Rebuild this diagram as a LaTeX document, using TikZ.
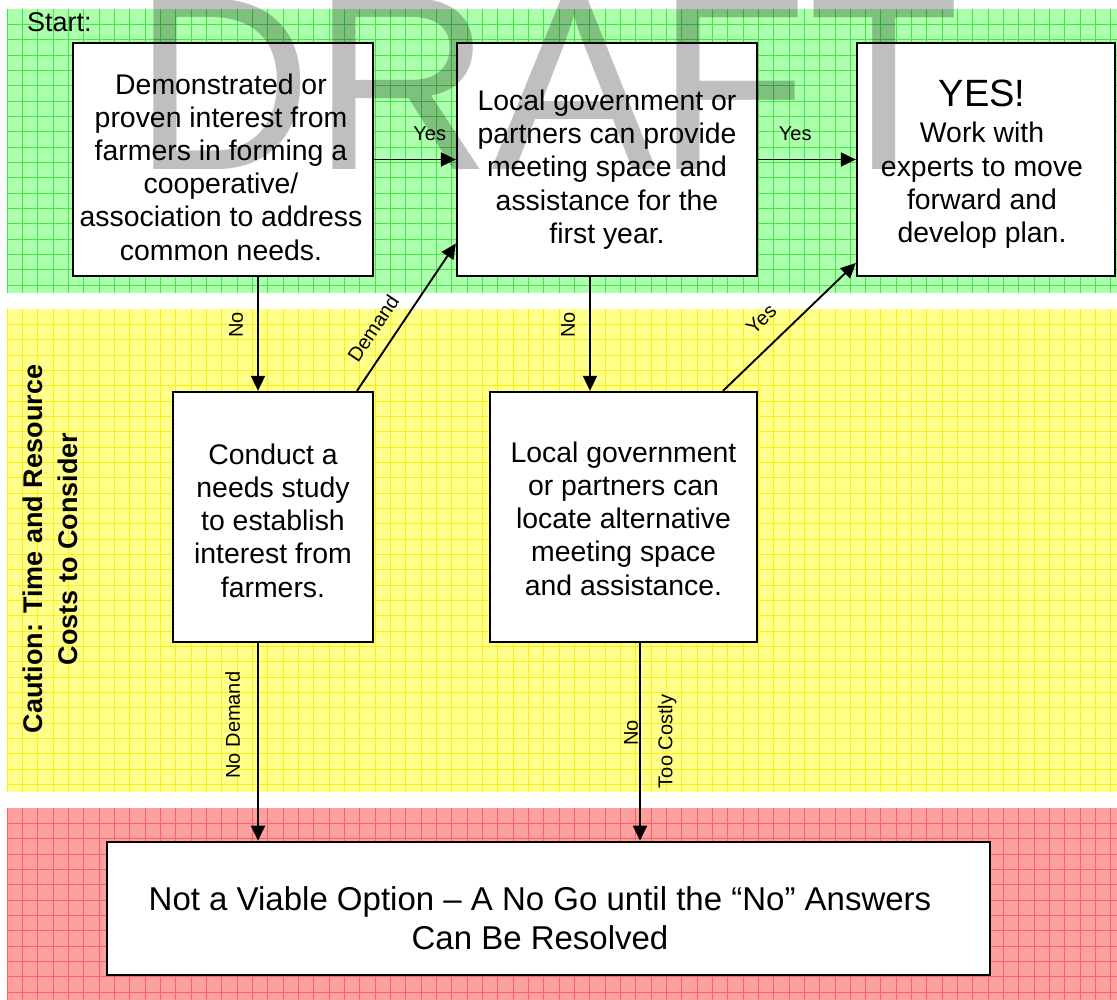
\documentclass[tikz,border=0pt]{standalone}
\usepackage{fontspec}
\setmainfont{Liberation Sans}
\usetikzlibrary{arrows.meta}

\definecolor{bandG}{RGB}{172,255,172}
\definecolor{bandY}{RGB}{255,255,140}
\definecolor{bandR}{RGB}{255,160,160}
\definecolor{lineG}{RGB}{70,228,70}
\definecolor{lineY}{RGB}{250,238,20}
\definecolor{lineR}{RGB}{255,95,95}

\tikzset{
  box/.style={draw=black, line width=2.3pt, fill=white, inner sep=0pt},
  txt/.style={font=\fontsize{28.4}{33.2}\selectfont, align=center, inner sep=0pt},
  arr/.style={draw=black, line width=1.9pt, -{Triangle[length=15pt,width=14pt]}},
  hlbl/.style={font=\fontsize{20}{24}\selectfont, inner sep=0pt, anchor=south},
  vlbl/.style={font=\fontsize{20}{24}\selectfont, rotate=90, inner xsep=0pt},
  slbl/.style={font=\fontsize{20}{24}\selectfont, sloped, anchor=south, inner xsep=0pt},
  gridline/.style={line width=0.65pt},
}

\begin{document}
\begin{tikzpicture}[x=1pt, y=-1pt]
\useasboundingbox (0,0) rectangle (1117,1000);

% colour bands with their grid
\fill[bandG] (7,9) rectangle (1117,293);
\foreach \i in {0,...,72} \draw[lineG, gridline] ({7+15.33*\i},9) -- ({7+15.33*\i},293);
\foreach \j in {1,...,18} \draw[lineG, gridline] (7,{9+15.33*\j}) -- (1117,{9+15.33*\j});

\fill[bandY] (7,309) rectangle (1117,792);
\foreach \i in {0,...,72} \draw[lineY, gridline] ({7+15.33*\i},309) -- ({7+15.33*\i},792);
\foreach \j in {1,...,31} \draw[lineY, gridline] (7,{309+15.33*\j}) -- (1117,{309+15.33*\j});

\fill[bandR] (7,808) rectangle (1117,1000);
\foreach \i in {0,...,72} \draw[lineR, gridline] ({7+15.33*\i},808) -- ({7+15.33*\i},1000);
\foreach \j in {1,...,12} \draw[lineR, gridline] (7,{808+15.33*\j}) -- (1117,{808+15.33*\j});

% band titles
\node[font=\fontsize{27}{32}\selectfont, anchor=base west, inner sep=0pt] (start) at (27,32) {Start:};
\node[font=\bfseries\fontsize{27}{35}\selectfont, align=center, rotate=90, inner sep=0pt] (caution) at (50.5,549)
  {Caution: Time and Resource\\Costs to Consider};

% boxes
\node[box, minimum width=300pt, minimum height=233pt] (a) at (223,159.5) {};
\node[box, minimum width=300pt, minimum height=233pt] (b) at (607,159.5) {};
\node[box, minimum width=258pt, minimum height=233pt] (c) at (986,159.5) {};
\node[box, minimum width=200pt, minimum height=250pt] (d) at (273,517) {};
\node[box, minimum width=267pt, minimum height=250pt] (e) at (623.5,517) {};
\node[box, line width=2.6pt, minimum width=883pt, minimum height=133pt] (f) at (548.5,908.5) {};

% box texts
\node[txt] (ta) at (221,167) {Demonstrated or\\proven interest from\\farmers in forming a\\cooperative/\\association to address\\common needs.};
\node[txt] (tb) at (607,169.5) {Local government or\\partners can provide\\meeting space and\\assistance for the\\first year.};
\node[font=\fontsize{38}{40}\selectfont, inner sep=0pt] (tyes) at (982,93.5) {YES!};
\node[txt] (tc) at (982,185.3) {Work with\\experts to move\\forward and\\develop plan.};
\node[txt] (td) at (273,520.5) {Conduct a\\needs study\\to establish\\interest from\\farmers.};
\node[txt] (te) at (623.5,518.5) {Local government\\or partners can\\locate alternative\\meeting space\\and assistance.};
\node[font=\fontsize{33}{39}\selectfont, align=center, inner sep=0pt] (tf) at (540,917.7)
  {Not a Viable Option – A No Go until the “No” Answers\\Can Be Resolved};

% connectors
\draw[arr] (a.east) -- node[hlbl, pos=0.68, yshift=17.5pt] (yes1) {Yes} (b.west);
\draw[arr] (b.east) -- node[hlbl, pos=0.38, yshift=17.5pt] (yes2) {Yes} (c.west);
\draw[arr] ([xshift=35pt]a.south) -- node[vlbl, pos=0.422, anchor=south, inner ysep=14pt] (no1) {No} ([xshift=-15pt]d.north);
\draw[arr] ([xshift=-17pt]b.south) -- node[vlbl, pos=0.422, anchor=south, inner ysep=14pt] (no2) {No} ([xshift=-33.5pt]e.north);
\draw[arr] ([xshift=84pt]d.north) -- node[slbl, pos=0.342, inner ysep=13pt] (dem) {Demand} ([yshift=-84pt]b.west);
\draw[arr] ([xshift=99.5pt]e.north) -- node[slbl, pos=0.418, inner ysep=17pt] (yes3) {Yes} ([yshift=-103.5pt]c.west);
\draw[arr] ([xshift=-15pt]d.south) -- node[vlbl, pos=0.415, anchor=south, inner ysep=17pt] (nodem) {No Demand} ([xshift=-290.5pt]f.north);
\draw[arr] ([xshift=16.5pt]e.south)
  -- node[vlbl, pos=0.455, anchor=south, inner ysep=1pt] (no3) {No}
     node[vlbl, pos=0.4975, anchor=north, inner ysep=17pt] (costly) {Too Costly}
  ([xshift=91.5pt]f.north);

% watermark
\node[font=\fontsize{248}{248}\selectfont, text=black, opacity=0.25, anchor=base west, inner sep=0pt] (wm) at (133,170) {DRAFT};
\end{tikzpicture}
\end{document}
